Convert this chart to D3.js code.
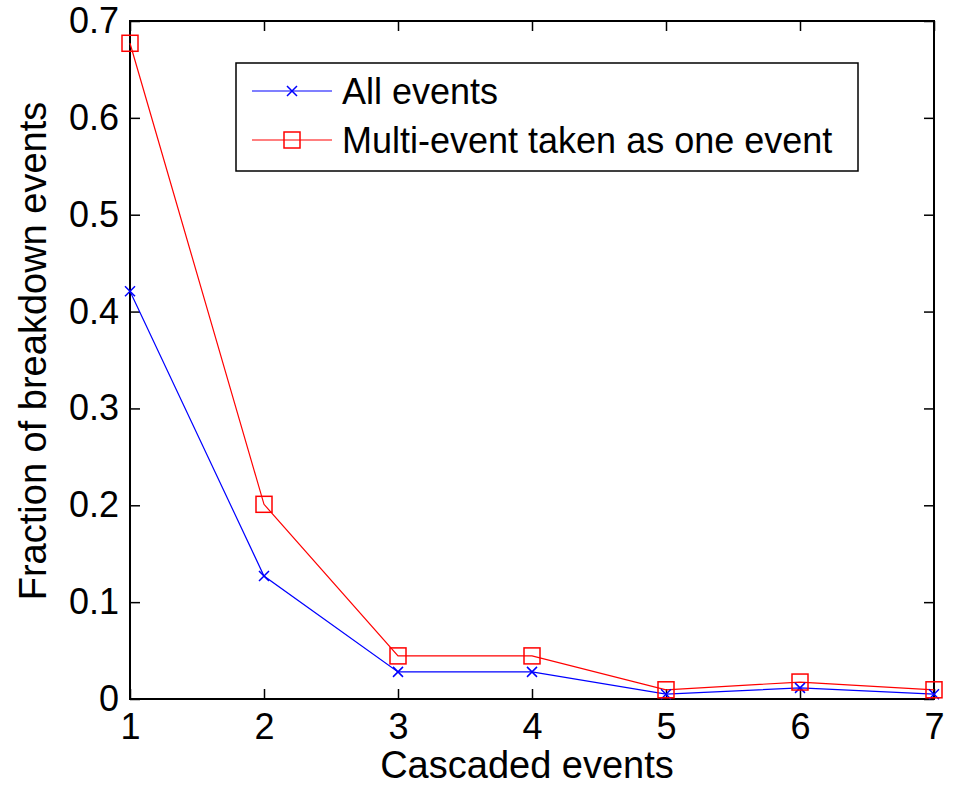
<!DOCTYPE html>
<html>
<head>
<meta charset="utf-8">
<script src="https://cdn.jsdelivr.net/npm/d3@7"></script>
<style>
body{margin:0;background:#fff}
text{font-family:"Liberation Sans",Arial,sans-serif;fill:#000}
</style>
</head>
<body>
<div id="chart"></div>
<script>
var events = [1, 2, 3, 4, 5, 6, 7]
var allEvents = [0.421, 0.127, 0.028, 0.028, 0.005, 0.0115, 0.005]
var multiAsOne = [0.677, 0.201, 0.0445, 0.0445, 0.0095, 0.0175, 0.0095]
var yTicks = [0, 0.1, 0.2, 0.3, 0.4, 0.5, 0.6, 0.7]
var seriesNames = ["All events", "Multi-event taken as one event"]

var width = 953
var height = 791
var plotL = 130, plotR = 934, plotT = 21, plotB = 699
var fontSize = 36

var svg = d3.select("#chart").append("svg").attr("width", width).attr("height", height)

var x = d3.scaleLinear().domain([1, 7]).range([plotL, plotR])
var y = d3.scaleLinear().domain([0, 0.7]).range([plotB, plotT])

// axes, ticks pointing inward like matlab
var tl = 10
svg.append("g").attr("transform", "translate(0," + plotB + ")")
	.call(d3.axisBottom(x).tickValues(events).tickFormat(d3.format("d")).tickSizeInner(-tl).tickSizeOuter(0).tickPadding(14))
svg.append("g").attr("transform", "translate(0," + plotT + ")")
	.call(d3.axisTop(x).tickValues(events).tickFormat("").tickSizeInner(-tl).tickSizeOuter(0))
svg.append("g").attr("transform", "translate(" + plotL + ",0)")
	.call(d3.axisLeft(y).tickValues(yTicks).tickFormat(function(d){ return d == 0 ? "0" : d3.format(".1f")(d) }).tickSizeInner(-tl).tickSizeOuter(0).tickPadding(11))
svg.append("g").attr("transform", "translate(" + plotR + ",0)")
	.call(d3.axisRight(y).tickValues(yTicks).tickFormat("").tickSizeInner(-tl).tickSizeOuter(0))

svg.selectAll(".domain").remove()
svg.selectAll(".tick line").attr("stroke", "#000").attr("stroke-width", 1.5)
svg.selectAll(".tick text").style("font-size", fontSize + "px").style("font-family", "'Liberation Sans',Arial,sans-serif").attr("fill", "#000")

svg.append("rect").attr("x", plotL).attr("y", plotT).attr("width", plotR - plotL).attr("height", plotB - plotT)
	.attr("fill", "none").attr("stroke", "#000").attr("stroke-width", 2)

// lines
var line = d3.line().x(function(d, i){ return x(events[i]) }).y(function(d){ return y(d) })

svg.append("path").attr("d", line(allEvents)).attr("fill", "none").attr("stroke", "#0000ff").attr("stroke-width", 1.2)
svg.append("path").attr("d", line(multiAsOne)).attr("fill", "none").attr("stroke", "#ff0000").attr("stroke-width", 1.2)

function cross(g, cx, cy, s, color){
	g.append("path").attr("d", "M" + (cx - s) + "," + (cy - s) + "L" + (cx + s) + "," + (cy + s) + "M" + (cx - s) + "," + (cy + s) + "L" + (cx + s) + "," + (cy - s))
		.attr("stroke", color).attr("stroke-width", 1.5).attr("fill", "none")
}
function square(g, cx, cy, s, color){
	g.append("rect").attr("x", cx - s).attr("y", cy - s).attr("width", 2 * s).attr("height", 2 * s)
		.attr("fill", "none").attr("stroke", color).attr("stroke-width", 1.5)
}

allEvents.forEach(function(d, i){ cross(svg, x(events[i]), y(d), 5, "#0000ff") })
multiAsOne.forEach(function(d, i){ square(svg, x(events[i]), y(d), 8, "#ff0000") })

// legend
var lg = svg.append("g")
lg.append("rect").attr("x", 236).attr("y", 63).attr("width", 622).attr("height", 108)
	.attr("fill", "#fff").attr("stroke", "#000").attr("stroke-width", 1.5)
var legendY = [91, 140]
var colors = ["#0000ff", "#ff0000"]
seriesNames.forEach(function(name, i){
	lg.append("line").attr("x1", 252).attr("x2", 332).attr("y1", legendY[i]).attr("y2", legendY[i])
		.attr("stroke", colors[i]).attr("stroke-width", 1.2)
	if(i == 0) cross(lg, 292, legendY[i], 5, colors[i])
	else square(lg, 292, legendY[i], 8, colors[i])
	lg.append("text").text(name).attr("x", 342).attr("y", legendY[i] + 13)
		.style("font-size", fontSize + "px")
})

// axis labels
svg.append("text").text("Cascaded events").attr("x", 527).attr("y", 778)
	.attr("text-anchor", "middle").style("font-size", "38px")
svg.append("text").text("Fraction of breakdown events")
	.attr("transform", "translate(46,351) rotate(-90)")
	.attr("text-anchor", "middle").style("font-size", "38px")
</script>
</body>
</html>
